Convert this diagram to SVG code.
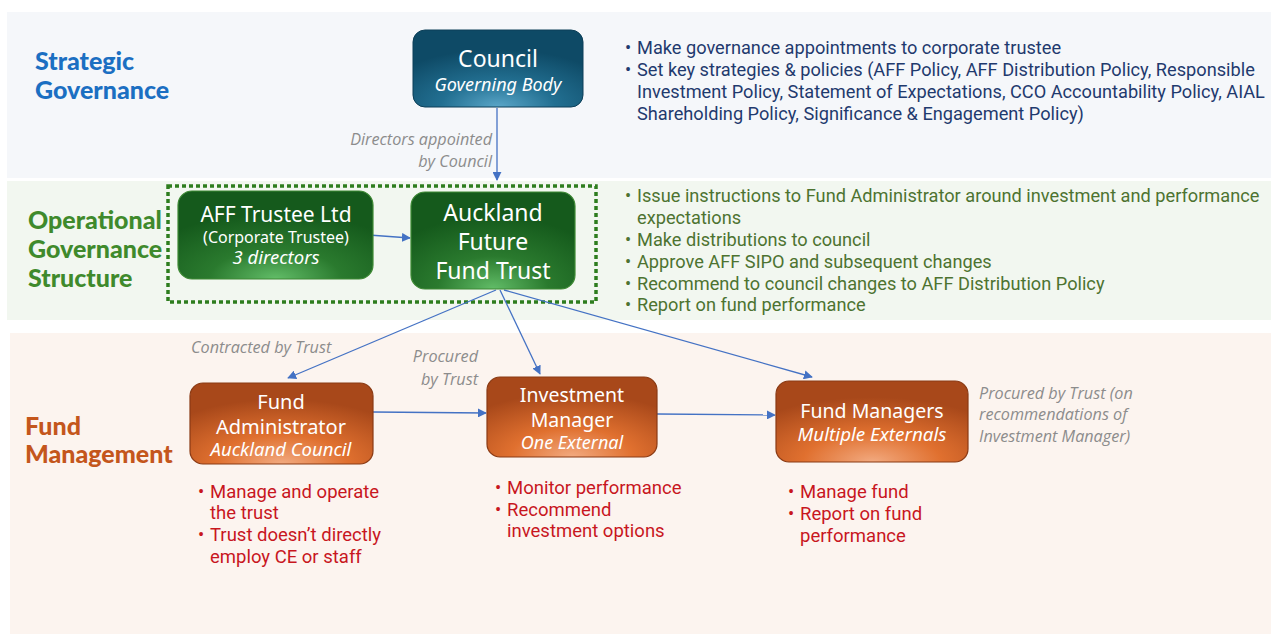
<svg xmlns="http://www.w3.org/2000/svg" width="1271" height="634" viewBox="0 0 1271 634">
  <defs>
    <radialGradient id="gBlue" cx="0.5" cy="1" r="0.75" fx="0.5" fy="1">
      <stop offset="0" stop-color="#5aa6c8"/>
      <stop offset="0.45" stop-color="#226f91"/>
      <stop offset="1" stop-color="#0e4a66"/>
    </radialGradient>
    <radialGradient id="gGreen" cx="0.5" cy="1" r="0.75" fx="0.5" fy="1">
      <stop offset="0" stop-color="#62bd68"/>
      <stop offset="0.45" stop-color="#2a7a2e"/>
      <stop offset="1" stop-color="#155a1c"/>
    </radialGradient>
    <radialGradient id="gOrange" cx="0.5" cy="1" r="0.8" fx="0.5" fy="1">
      <stop offset="0" stop-color="#f2aa80"/>
      <stop offset="0.45" stop-color="#e0702f"/>
      <stop offset="1" stop-color="#a8481a"/>
    </radialGradient>
    <marker id="arr" viewBox="0 0 10 10" refX="9" refY="5" markerWidth="9" markerHeight="9" markerUnits="userSpaceOnUse" orient="auto">
      <path d="M0,0 L10,5 L0,10 z" fill="#4472c4"/>
    </marker>
    <style>
      .band-lbl { font-family: Lato, "Open Sans", sans-serif; font-weight: 900; font-size: 25px; }
      .node-t { font-family: "Noto Sans", "Open Sans", sans-serif; fill: #ffffff; text-anchor: middle; }
      .node-i { font-family: "Noto Sans", "Open Sans", sans-serif; fill: #ffffff; text-anchor: middle; font-style: italic; }
      .bul { font-family: Roboto, "Liberation Sans", sans-serif; font-size: 18.2px; }
      .navy { fill: #1f3a6e; }
      .olive { fill: #4d7330; }
      .red { font-family: Roboto, "Liberation Sans", sans-serif; font-size: 18.5px; fill: #c8161e; }
      .note { font-family: "Open Sans", "Liberation Sans", sans-serif; font-style: italic; font-size: 16.2px; fill: #8c8c8c; }
      .conn { stroke: #4472c4; stroke-width: 1.3; fill: none; marker-end: url(#arr); }
    </style>
  </defs>

  <!-- background bands -->
  <rect x="0" y="0" width="1271" height="634" fill="#ffffff"/>
  <rect x="7" y="12" width="1264" height="166" fill="#f5f7fa"/>
  <rect x="7" y="181" width="1264" height="139" fill="#f2f7f0"/>
  <rect x="10" y="333" width="1261" height="301" fill="#fcf4ef"/>

  <!-- band labels -->
  <text class="band-lbl" fill="#1b6fc2" x="35" y="70">Strategic</text>
  <text class="band-lbl" fill="#1b6fc2" x="35" y="99">Governance</text>
  <text class="band-lbl" fill="#3f8a2c" x="28" y="229">Operational</text>
  <text class="band-lbl" fill="#3f8a2c" x="28" y="258">Governance</text>
  <text class="band-lbl" fill="#3f8a2c" x="28" y="287">Structure</text>
  <text class="band-lbl" fill="#c4561c" x="25" y="435">Fund</text>
  <text class="band-lbl" fill="#c4561c" x="25" y="463">Management</text>

  <!-- operational governance grouping -->
  <rect x="168" y="186" width="428" height="116" fill="none" stroke="#2e7d1e" stroke-width="3.5" stroke-dasharray="4 3"/>

  <!-- connectors -->
  <g id="connectors">
    <line class="conn" x1="497" y1="108" x2="497" y2="180"/>
    <line class="conn" x1="355" y1="234" x2="410" y2="238"/>
    <line class="conn" x1="496" y1="290" x2="288" y2="378"/>
    <line class="conn" x1="500" y1="290" x2="540" y2="374"/>
    <line class="conn" x1="504" y1="290" x2="812" y2="377"/>
    <line class="conn" x1="373" y1="412" x2="486" y2="413"/>
    <line class="conn" x1="657" y1="414" x2="775" y2="415"/>
  </g>

  <!-- nodes -->
  <g id="council">
    <rect x="413" y="30" width="170" height="77" rx="12" fill="url(#gBlue)" stroke="#0c3f58" stroke-width="1"/>
    <text class="node-t" x="498" y="67" font-size="23">Council</text>
    <text class="node-i" x="498" y="91" font-size="18">Governing Body</text>
  </g>

  <g id="aff-trustee">
    <rect x="178" y="191" width="195" height="88" rx="14" fill="url(#gGreen)" stroke="#3f8a35" stroke-width="1.2"/>
    <text class="node-t" x="276" y="222" font-size="21">AFF Trustee Ltd</text>
    <text class="node-t" x="276" y="243" font-size="16">(Corporate Trustee)</text>
    <text class="node-i" x="276" y="264" font-size="18.5">3 directors</text>
  </g>

  <g id="aff-trust">
    <rect x="411" y="192" width="164" height="97" rx="14" fill="url(#gGreen)" stroke="#3f8a35" stroke-width="1.2"/>
    <text class="node-t" x="493" y="221" font-size="23">Auckland</text>
    <text class="node-t" x="493" y="250" font-size="23">Future</text>
    <text class="node-t" x="493" y="279" font-size="23">Fund Trust</text>
  </g>

  <g id="fund-administrator">
    <rect x="190" y="383" width="183" height="81" rx="13" fill="url(#gOrange)" stroke="#8a3a14" stroke-width="1.2"/>
    <text class="node-t" x="281" y="409" font-size="20">Fund</text>
    <text class="node-t" x="281" y="434" font-size="20">Administrator</text>
    <text class="node-i" x="281" y="456" font-size="18.5">Auckland Council</text>
  </g>

  <g id="investment-manager">
    <rect x="487" y="377" width="170" height="80" rx="13" fill="url(#gOrange)" stroke="#8a3a14" stroke-width="1.2"/>
    <text class="node-t" x="572" y="402" font-size="19.5">Investment</text>
    <text class="node-t" x="572" y="427" font-size="19.5">Manager</text>
    <text class="node-i" x="572" y="449" font-size="18">One External</text>
  </g>

  <g id="fund-managers">
    <rect x="776" y="381" width="192" height="81" rx="13" fill="url(#gOrange)" stroke="#8a3a14" stroke-width="1.2"/>
    <text class="node-t" x="872" y="418" font-size="19.5">Fund Managers</text>
    <text class="node-i" x="872" y="441" font-size="18.8">Multiple Externals</text>
  </g>

  <!-- connector notes -->
  <text class="note" x="492" y="145" text-anchor="end">Directors appointed</text>
  <text class="note" x="492" y="167" text-anchor="end">by Council</text>
  <text class="note" x="191" y="353">Contracted by Trust</text>
  <text class="note" x="478" y="362" text-anchor="end">Procured</text>
  <text class="note" x="478" y="385" text-anchor="end">by Trust</text>
  <text class="note" x="979" y="399">Procured by Trust (on</text>
  <text class="note" x="979" y="420">recommendations of</text>
  <text class="note" x="979" y="442">Investment Manager)</text>

  <!-- council responsibilities -->
  <g class="bul navy">
    <text x="625" y="54">•</text><text x="637" y="54">Make governance appointments to corporate trustee</text>
    <text x="625" y="76">•</text><text x="637" y="76">Set key strategies &amp; policies (AFF Policy, AFF Distribution Policy, Responsible</text>
    <text x="637" y="98">Investment Policy, Statement of Expectations, CCO Accountability Policy, AIAL</text>
    <text x="637" y="120">Shareholding Policy, Significance &amp; Engagement Policy)</text>
  </g>

  <!-- trust responsibilities -->
  <g class="bul olive">
    <text x="625" y="202">•</text><text x="637" y="202">Issue instructions to Fund Administrator around investment and performance</text>
    <text x="637" y="224">expectations</text>
    <text x="625" y="246">•</text><text x="637" y="246">Make distributions to council</text>
    <text x="625" y="268">•</text><text x="637" y="268">Approve AFF SIPO and subsequent changes</text>
    <text x="625" y="290">•</text><text x="637" y="290">Recommend to council changes to AFF Distribution Policy</text>
    <text x="625" y="311">•</text><text x="637" y="311">Report on fund performance</text>
  </g>

  <!-- fund management responsibilities -->
  <g class="red">
    <text x="198" y="498">•</text><text x="210" y="498">Manage and operate</text>
    <text x="210" y="519">the trust</text>
    <text x="198" y="541">•</text><text x="210" y="541">Trust doesn’t directly</text>
    <text x="210" y="563">employ CE or staff</text>

    <text x="495" y="494">•</text><text x="507" y="494">Monitor performance</text>
    <text x="495" y="516">•</text><text x="507" y="516">Recommend</text>
    <text x="507" y="537">investment options</text>

    <text x="788" y="498">•</text><text x="800" y="498">Manage fund</text>
    <text x="788" y="520">•</text><text x="800" y="520">Report on fund</text>
    <text x="800" y="542">performance</text>
  </g>
</svg>
